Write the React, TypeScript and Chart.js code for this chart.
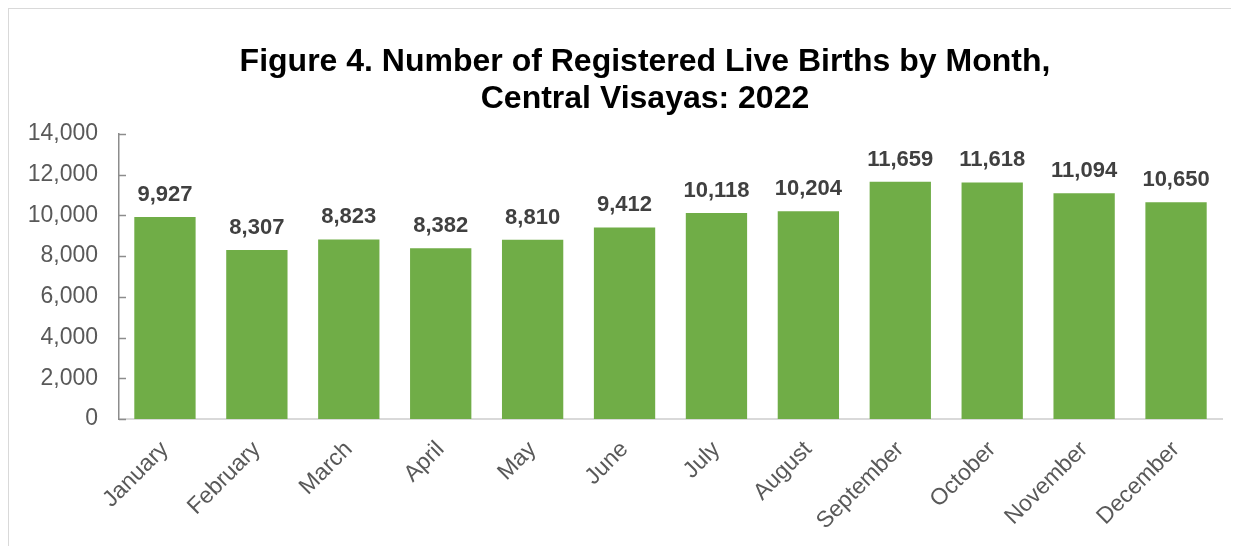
import React, { useEffect, useRef } from "react";
import { Chart, registerables } from "chart.js";

Chart.register(...registerables);

const months = [
  "January", "February", "March", "April", "May", "June",
  "July", "August", "September", "October", "November", "December",
];
const births = [9927, 8307, 8823, 8382, 8810, 9412, 10118, 10204, 11659, 11618, 11094, 10650];
const yTickValues = [0, 2000, 4000, 6000, 8000, 10000, 12000, 14000];
const titleLines = [
  "Figure 4. Number of Registered Live Births by Month,",
  "Central Visayas: 2022",
];

const FONT = "'Liberation Sans', Arial, sans-serif";
const fmt = (v: number) => v.toLocaleString("en-US");

const titlePlugin = {
  id: "customTitle",
  afterDraw(chart: any) {
    const ctx = chart.ctx;
    ctx.save();
    ctx.font = `bold 32px ${FONT}`;
    ctx.fillStyle = "#000000";
    ctx.textAlign = "center";
    ctx.textBaseline = "middle";
    titleLines.forEach((line, i) => {
      ctx.fillText(line, 636, 53 + i * 37);
    });
    ctx.restore();
  },
};

const valueLabels = {
  id: "valueLabels",
  afterDatasetsDraw(chart: any) {
    const ctx = chart.ctx;
    const meta = chart.getDatasetMeta(0);
    ctx.save();
    ctx.font = `bold 22px ${FONT}`;
    ctx.fillStyle = "#404040";
    ctx.textAlign = "center";
    ctx.textBaseline = "alphabetic";
    meta.data.forEach((bar: any, i: number) => {
      ctx.fillText(fmt(births[i]), bar.x, bar.y - 16);
    });
    ctx.restore();
  },
};

const insideTicks = {
  id: "insideTicks",
  afterDraw(chart: any) {
    const ctx = chart.ctx;
    const y = chart.scales.y;
    const left = chart.chartArea.left;
    ctx.save();
    ctx.strokeStyle = "#8c8c8c";
    ctx.lineWidth = 1.5;
    yTickValues.forEach((v) => {
      const py = Math.round(y.getPixelForValue(v)) + 0.5;
      ctx.beginPath();
      ctx.moveTo(left, py);
      ctx.lineTo(left + 7, py);
      ctx.stroke();
    });
    ctx.restore();
  },
};

export default function App() {
  const ref = useRef<HTMLCanvasElement | null>(null);

  useEffect(() => {
    if (!ref.current) return;
    const chart = new Chart(ref.current, {
      type: "bar",
      data: {
        labels: months,
        datasets: [
          {
            data: births,
            backgroundColor: "#70ad47",
            borderWidth: 0,
            categoryPercentage: 0.667,
            barPercentage: 1,
          },
        ],
      },
      options: {
        animation: false,
        responsive: false,
        maintainAspectRatio: false,
        layout: { padding: { top: 125, right: 17, left: 0, bottom: 0 } },
        plugins: {
          legend: { display: false },
          title: { display: false },
          tooltip: { enabled: false },
        },
        scales: {
          x: {
            grid: { display: false, drawTicks: false },
            border: { display: true, color: "#d9d9d9", width: 2 },
            ticks: {
              color: "#595959",
              font: { family: FONT, size: 23 },
              minRotation: 45,
              maxRotation: 45,
              padding: 17,
              autoSkip: false,
            },
            afterFit(scale: any) {
              scale.height = 127;
            },
          },
          y: {
            min: 0,
            max: 14000,
            grid: { display: false, drawTicks: false },
            border: { display: true, color: "#8c8c8c", width: 1.5 },
            ticks: {
              stepSize: 2000,
              color: "#595959",
              font: { family: FONT, size: 23 },
              padding: 21,
              callback: (v: any) => fmt(Number(v)),
            },
            afterFit(scale: any) {
              scale.width = 110;
            },
          },
        },
      },
      plugins: [titlePlugin, valueLabels, insideTicks],
    });
    return () => chart.destroy();
  }, []);

  return (
    <div
      style={{
        width: 1231,
        height: 538,
        borderTop: "1px solid #d9d9d9",
        borderLeft: "1px solid #d9d9d9",
        boxSizing: "border-box",
        background: "#ffffff",
      }}
    >
      <canvas ref={ref} width={1230} height={537} style={{ display: "block" }} />
    </div>
  );
}
